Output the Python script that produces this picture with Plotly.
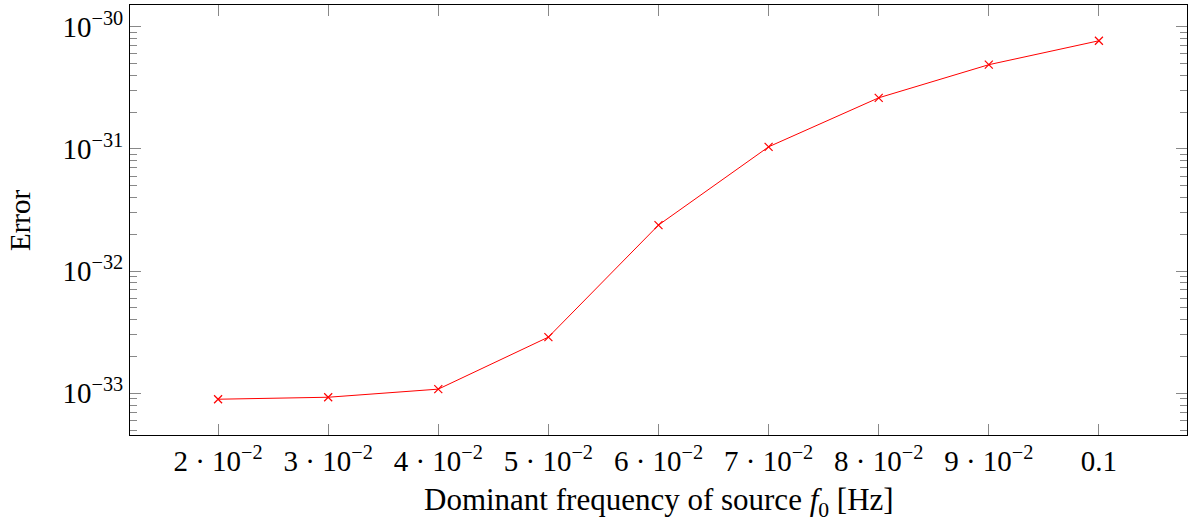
import plotly.graph_objects as go

freq = [0.02, 0.03, 0.04, 0.05, 0.06, 0.07, 0.08, 0.09, 0.1]
error = [8.93e-34, 9.27e-34, 1.08e-33, 2.88e-33, 2.38e-32, 1.04e-31, 2.62e-31, 4.89e-31, 7.68e-31]

x_tickvals = [0.02, 0.03, 0.04, 0.05, 0.06, 0.07, 0.08, 0.09, 0.1]
x_ticktext = ["2 · 10<sup>−2</sup>", "3 · 10<sup>−2</sup>", "4 · 10<sup>−2</sup>", "5 · 10<sup>−2</sup>",
              "6 · 10<sup>−2</sup>", "7 · 10<sup>−2</sup>", "8 · 10<sup>−2</sup>", "9 · 10<sup>−2</sup>", "0.1"]
y_tickvals = [1e-33, 1e-32, 1e-31, 1e-30]
y_ticktext = ["10<sup>−33</sup>", "10<sup>−32</sup>", "10<sup>−31</sup>", "10<sup>−30</sup>"]

x_title = "Dominant frequency of source <i>f</i><sub>0</sub> [Hz]"
y_title = "Error"

font_family = "Liberation Serif, DejaVu Serif, serif"

fig = go.Figure()
fig.add_trace(go.Scatter(
    x=freq, y=error, mode="lines+markers",
    line=dict(color="#ff0000", width=1),
    marker=dict(symbol="x-thin", size=8, line=dict(color="#ff0000", width=1.2)),
    showlegend=False,
))

fig.update_layout(
    width=1189, height=521,
    margin=dict(l=130, r=2, t=5, b=86),
    paper_bgcolor="white", plot_bgcolor="white",
    font=dict(family=font_family, color="black", size=29),
    xaxis=dict(
        range=[0.012, 0.108],
        tickvals=x_tickvals, ticktext=x_ticktext,
        ticks="inside", ticklen=11, tickcolor="#888888", tickwidth=1,
        showline=True, linecolor="black", linewidth=1, mirror="allticks",
        showgrid=False, zeroline=False,
        tickfont=dict(size=29),
    ),
    yaxis=dict(
        type="log",
        range=[-33.342, -29.822],
        tickvals=y_tickvals, ticktext=y_ticktext,
        ticks="inside", ticklen=11, tickcolor="#888888", tickwidth=1,
        minor=dict(ticks="inside", ticklen=7, tickcolor="#888888", tickwidth=1, dtick="D1", showgrid=False),
        showline=True, linecolor="black", linewidth=1, mirror="allticks",
        showgrid=False, zeroline=False,
        tickfont=dict(size=29),
    ),
    annotations=[
        dict(text=x_title, xref="paper", yref="paper", x=0.5, y=0, yshift=-67,
             xanchor="center", yanchor="middle", showarrow=False, font=dict(size=31)),
        dict(text=y_title, xref="paper", yref="paper", x=0, y=0.5, xshift=-110,
             xanchor="center", yanchor="middle", textangle=-90, showarrow=False, font=dict(size=29)),
    ],
)

fig.write_html("out.html")
